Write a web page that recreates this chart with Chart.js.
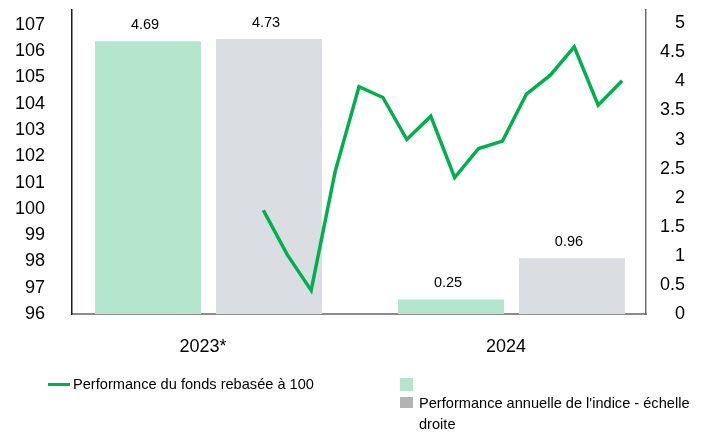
<!DOCTYPE html>
<html>
<head>
<meta charset="utf-8">
<script src="https://cdn.jsdelivr.net/npm/chart.js@4.4.1/dist/chart.umd.min.js"></script>
<style>
  html, body { margin: 0; padding: 0; background: #fff; }
  #wrap { position: relative; width: 706px; height: 433px; font-family: "Liberation Sans", Arial, sans-serif; color: #000; }
  canvas { position: absolute; left: 0; top: 0; }
  .lg { position: absolute; font-size: 14.6px; line-height: 21px; white-space: nowrap; color: #000; }
  .sw { position: absolute; }
</style>
</head>
<body>
<div id="wrap">
  <canvas id="c" width="706" height="433"></canvas>
  <div class="sw" style="left:48px; top:382.5px; width:22px; height:3px; background:#00b04f;"></div>
  <div class="lg" style="left:73px; top:373.5px;">Performance du fonds rebasée à 100</div>
  <div class="sw" style="left:400px; top:378px; width:13px; height:13px; background:#b3e6cc;"></div>
  <div class="sw" style="left:400px; top:397px; width:13px; height:11px; background:#b3b3b3;"></div>
  <div class="lg" style="left:419px; top:392.5px;">Performance annuelle de l'indice - échelle<br>droite</div>
</div>
<script>
// ---- Data ----
const categories = ["2023*", "2024"];
const fundAnnual = [4.69, 0.25];          // green bars (right axis)
const indexAnnual = [4.73, 0.96];         // grey bars (right axis)
const monthLabels = ["déc. 22","janv. 23","févr. 23","mars 23","avr. 23","mai 23","juin 23","juil. 23",
  "août 23","sept. 23","oct. 23","nov. 23","déc. 23","janv. 24","févr. 24","mars 24","avr. 24",
  "mai 24","juin 24","juil. 24","août 24","sept. 24","oct. 24","nov. 24","déc. 24"];
const fundRebased = [null,null,null,null,null,null,null,null,
  99.95, 98.26, 96.90, 101.41, 104.65, 104.24, 102.64, 103.53, 101.19,
  102.30, 102.58, 104.37, 105.09, 106.17, 103.95, 104.88, null];
const leftTicks = [96,97,98,99,100,101,102,103,104,105,106,107];
const rightTicks = [0,0.5,1,1.5,2,2.5,3,3.5,4,4.5,5];

const FONT = "'Liberation Sans', Arial, sans-serif";

const barLabels = {
  id: 'barLabels',
  afterDatasetsDraw(chart) {
    const ctx = chart.ctx;
    ctx.save();
    ctx.font = "14.5px " + FONT;
    ctx.fillStyle = "#000";
    ctx.textAlign = "center";
    ctx.textBaseline = "middle";
    chart.data.datasets.forEach((ds, di) => {
      if (ds.type !== 'bar') return;
      const meta = chart.getDatasetMeta(di);
      meta.data.forEach((el, i) => {
        const v = ds.data[i].y;
        ctx.fillText(v.toFixed(2), el.x - 3, el.y - 16);
      });
    });
    ctx.restore();
  }
};

const noPad = (s) => { s.paddingTop = 0; s.paddingBottom = 0; };

new Chart(document.getElementById('c'), {
  data: {
    labels: monthLabels,
    datasets: [
      {
        type: 'line',
        label: 'Performance du fonds rebasée à 100',
        data: fundRebased,
        xAxisID: 'x2',
        yAxisID: 'y',
        borderColor: '#00b04f',
        borderWidth: 3.5,
        pointRadius: 0,
        tension: 0,
        fill: false,
        order: 0
      },
      {
        type: 'bar',
        label: '',
        data: categories.map((c, i) => ({ x: i, y: fundAnnual[i] })),
        xAxisID: 'x',
        yAxisID: 'y1',
        backgroundColor: '#b3e6cc',
        categoryPercentage: 1.597,
        barPercentage: 0.876,
        order: 1
      },
      {
        type: 'bar',
        label: "Performance annuelle de l'indice - échelle droite",
        data: categories.map((c, i) => ({ x: i, y: indexAnnual[i] })),
        xAxisID: 'x',
        yAxisID: 'y1',
        backgroundColor: '#dadee2',
        categoryPercentage: 1.597,
        barPercentage: 0.876,
        order: 1
      }
    ]
  },
  options: {
    responsive: false,
    animation: false,
    layout: { autoPadding: false, padding: { top: 10, left: 0, right: 21, bottom: 0 } },
    plugins: { legend: { display: false }, tooltip: { enabled: false } },
    scales: {
      x: {
        type: 'linear',
        position: 'bottom',
        offset: false,
        min: -0.4505,
        max: 1.4439,
        grid: { display: false },
        border: { display: true, color: '#8c8c8c', width: 2 },
        afterBuildTicks: (s) => { s.ticks = categories.map((c, i) => ({ value: i })); },
        afterFit: (s) => { s.height = 119; s.paddingLeft = 0; s.paddingRight = 0; },
        ticks: {
          padding: 14,
          labelOffset: -5.5,
          color: '#000',
          font: { family: FONT, size: 18 },
          callback: (v) => categories[v] !== undefined ? categories[v] : ''
        }
      },
      x2: {
        type: 'category',
        display: false,
        offset: false,
        ticks: { display: false }
      },
      y: {
        type: 'linear',
        position: 'left',
        min: 96,
        max: 107.57,
        grid: { display: false },
        border: { display: true, color: '#1a1a1a', width: 1.5 },
        afterBuildTicks: (s) => { s.ticks = leftTicks.map(v => ({ value: v })); },
        afterFit: (s) => { s.width = 72; noPad(s); },
        ticks: {
          padding: 19,
          color: '#000',
          font: { family: FONT, size: 18 }
        }
      },
      y1: {
        type: 'linear',
        position: 'right',
        min: 0,
        max: 5.229,
        grid: { display: false },
        border: { display: true, color: '#6e6e6e', width: 1.5 },
        afterBuildTicks: (s) => { s.ticks = rightTicks.map(v => ({ value: v })); },
        afterFit: (s) => { s.width = 39; noPad(s); },
        ticks: {
          padding: 5,
          crossAlign: 'far',
          color: '#000',
          font: { family: FONT, size: 18 },
          callback: (v) => String(v)
        }
      }
    }
  },
  plugins: [barLabels]
});
</script>
</body>
</html>
